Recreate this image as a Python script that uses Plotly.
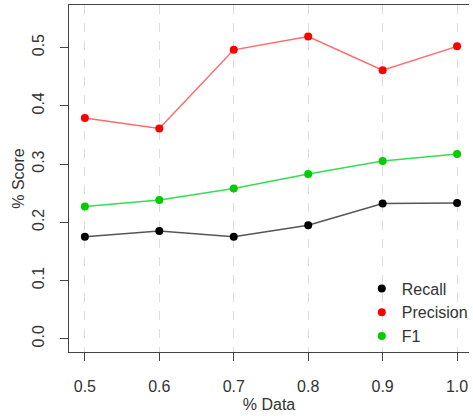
import plotly.graph_objects as go

x_data = [0.5, 0.6, 0.7, 0.8, 0.9, 1.0]
recall = [0.175, 0.185, 0.175, 0.195, 0.232, 0.233]
precision = [0.379, 0.361, 0.496, 0.519, 0.461, 0.502]
f1 = [0.227, 0.238, 0.258, 0.283, 0.305, 0.317]
x_ticks = [0.5, 0.6, 0.7, 0.8, 0.9, 1.0]
x_tick_labels = ["0.5", "0.6", "0.7", "0.8", "0.9", "1.0"]
y_ticks = [0.0, 0.1, 0.2, 0.3, 0.4, 0.5]
y_tick_labels = ["0.0", "0.1", "0.2", "0.3", "0.4", "0.5"]

FONT = "Liberation Sans, Arial, sans-serif"
TXT = "#333333"
FS = 16

fig = go.Figure()

series = [
    ("Recall", recall, "#555555", "#000000"),
    ("Precision", precision, "#ff6a6a", "#ff0000"),
    ("F1", f1, "#33dd55", "#00cc00"),
]
for name, vals, lc, mc in series:
    fig.add_trace(go.Scatter(
        x=x_data, y=vals, mode="lines+markers", name=name, showlegend=False,
        line=dict(color=lc, width=1.5),
        marker=dict(color=mc, size=8),
        cliponaxis=False,
    ))
for name, vals, lc, mc in series:
    fig.add_trace(go.Scatter(
        x=[None], y=[None], mode="markers", name=name,
        marker=dict(color=mc, size=8),
    ))

fig.update_layout(
    width=473, height=416,
    margin=dict(l=69, r=0, t=5, b=64),
    paper_bgcolor="white", plot_bgcolor="white",
    font=dict(family=FONT, size=FS, color=TXT),
    showlegend=True,
    legend=dict(
        x=0.732, y=0.232, xanchor="left", yanchor="top",
        bgcolor="rgba(0,0,0,0)", borderwidth=0,
        font=dict(family=FONT, size=FS, color=TXT),
        itemwidth=30, tracegroupgap=0,
    ),
)

fig.update_xaxes(
    range=[0.4787, 1.016], automargin=False,
    tickmode="array", tickvals=x_ticks, ticktext=x_tick_labels,
    ticks="outside", ticklen=8, tickcolor="#444444", tickwidth=1,
    ticklabelstandoff=12,
    showline=True, linecolor="#444444", linewidth=1, mirror=True,
    showgrid=True, gridcolor="#dddddd", griddash="dash", gridwidth=1,
    zeroline=False,
    title=dict(text="% Data", standoff=4, font=dict(family=FONT, size=FS, color=TXT)),
    tickfont=dict(family=FONT, size=FS, color=TXT),
)
fig.update_yaxes(
    range=[-0.0228, 0.573], automargin=False,
    tickmode="array", tickvals=y_ticks, ticktext=y_tick_labels,
    ticks="outside", ticklen=8, tickcolor="#444444", tickwidth=1,
    ticklabelstandoff=10,
    showline=True, linecolor="#444444", linewidth=1, mirror=False,
    showgrid=False, zeroline=False,
    tickangle=-90,
    title=dict(text="% Score", standoff=0, font=dict(family=FONT, size=FS, color=TXT)),
    tickfont=dict(family=FONT, size=FS, color=TXT),
)

fig.write_html("out.html", config={"displayModeBar": False},
               post_script="document.body.style.margin='0';")
